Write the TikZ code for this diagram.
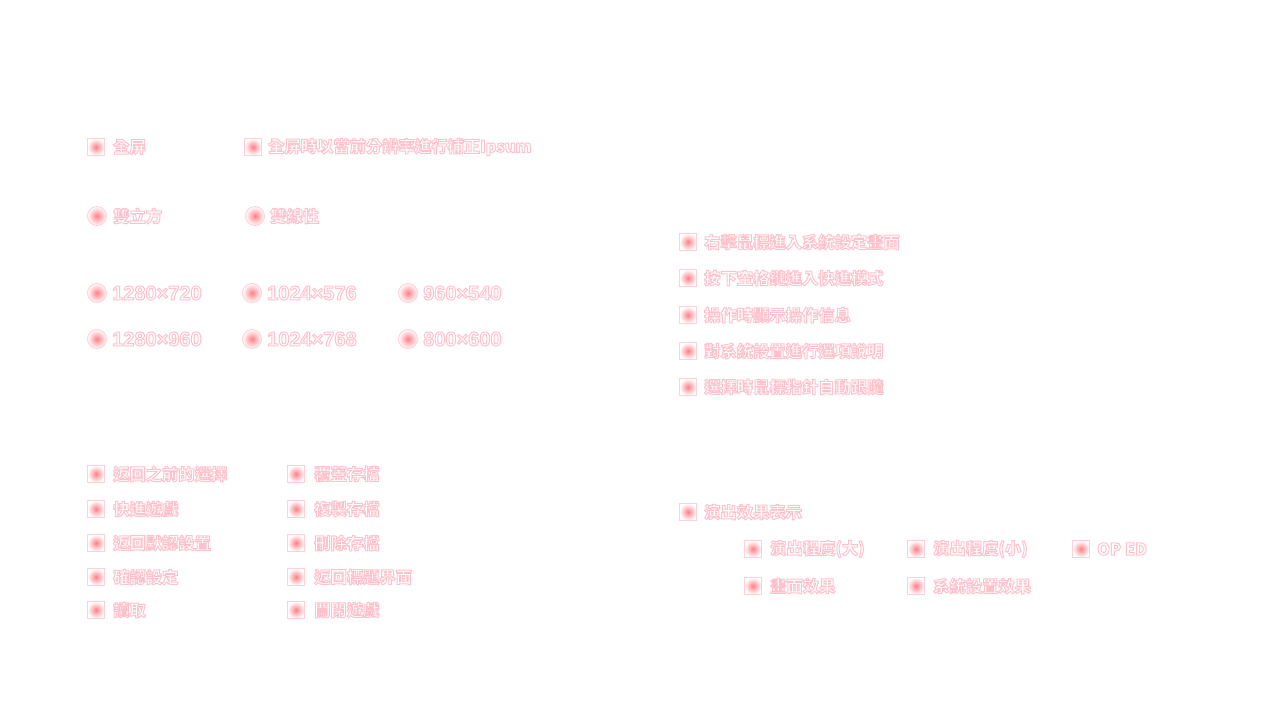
\documentclass[tikz,border=0pt]{standalone}
\usepackage{fontspec}
\setmainfont{Liberation Sans}
\newfontfamily\cjkfont{Noto Sans CJK TC}
\newfontfamily\numfont{Liberation Sans}
\definecolor{boxpink}{HTML}{FFD0D5}
\definecolor{dotred}{HTML}{FF7F86}
\newcommand{\gl}[1]{\special{pdf:literal direct 2 Tr 1 0.76 0.8 RG 1.0 w}#1\special{pdf:literal direct 0 Tr 0.4 w}}
\tikzset{
  chk/.style={draw=boxpink, line width=0.9pt, fill=white, minimum size=16.5pt, inner sep=0pt,
    path picture={
      \shade[inner color=dotred, outer color=white] ([shift={(-8.5pt,-8.5pt)}]path picture bounding box.center) rectangle ([shift={(8.5pt,8.5pt)}]path picture bounding box.center);
    }},
  rad/.style={circle, draw=boxpink, line width=0.9pt, fill=white, minimum size=19pt, inner sep=0pt,
    path picture={
      \shade[inner color=dotred, outer color=white] (path picture bounding box.center) circle (9.5pt);
    }},
  lbl/.style={anchor=west, inner sep=0pt, text=white, font=\cjkfont\bfseries\fontsize{16.3}{18}\selectfont},
  nlbl/.style={anchor=west, inner sep=0pt, text=white, font=\numfont\bfseries\fontsize{20}{22}\selectfont}
}
\begin{document}
\begin{tikzpicture}[x=1pt,y=-1pt]
\useasboundingbox (0,0) rectangle (1280,720);
% top left: display
\node[chk] (k1) at (96,147) {};
\node[lbl] (t1) at (113,147) {\gl{全屏}};
\node[chk] (k2) at (253,147) {};
\node[lbl] (t2) at (268,147) {\gl{全屏時以當前分辨率進行補正Ipsum}};
\node[rad] (r1) at (97,216) {};
\node[lbl] (u1) at (113,216) {\gl{雙立方}};
\node[rad] (r2) at (255,216) {};
\node[lbl] (u2) at (270,216) {\gl{雙線性}};
% resolutions
\node[rad] (r3) at (97,293) {};
\node[nlbl] (n3) at (112,293) {\gl{1280×720}};
\node[rad] (r4) at (252,293) {};
\node[nlbl] (n4) at (267,293) {\gl{1024×576}};
\node[rad] (r5) at (408,293) {};
\node[nlbl] (n5) at (423,293) {\gl{960×540}};
\node[rad] (r6) at (97,339) {};
\node[nlbl] (n6) at (112,339) {\gl{1280×960}};
\node[rad] (r7) at (252,339) {};
\node[nlbl] (n7) at (267,339) {\gl{1024×768}};
\node[rad] (r8) at (408,339) {};
\node[nlbl] (n8) at (423,339) {\gl{800×600}};
% right list
\node[chk] (q1) at (688,242) {};
\node[lbl] (p1) at (704,242) {\gl{右擊鼠標進入系統設定畫面}};
\node[chk] (q2) at (688,278) {};
\node[lbl] (p2) at (704,278) {\gl{按下空格鍵進入快進模式}};
\node[chk] (q3) at (688,315) {};
\node[lbl] (p3) at (704,315) {\gl{操作時顯示操作信息}};
\node[chk] (q4) at (688,351) {};
\node[lbl] (p4) at (704,351) {\gl{對系統設置進行選項說明}};
\node[chk] (q5) at (688,387) {};
\node[lbl] (p5) at (704,387) {\gl{選擇時鼠標指針自動跟隨}};
% effects
\node[chk] (e0) at (688,512) {};
\node[lbl] (f0) at (704,512) {\gl{演出效果表示}};
\node[chk] (e1) at (753,549) {};
\node[lbl] (f1) at (770,549) {\gl{演出程度(大)}};
\node[chk] (e2) at (916,549) {};
\node[lbl] (f2) at (933,549) {\gl{演出程度(小)}};
\node[chk] (e3) at (1081,549) {};
\node[lbl] (f3) at (1097,549) {\gl{OP ED}};
\node[chk] (e4) at (753,586) {};
\node[lbl] (f4) at (770,586) {\gl{畫面效果}};
\node[chk] (e5) at (916,586) {};
\node[lbl] (f5) at (933,586) {\gl{系統設置效果}};
% bottom left col 1
\node[chk] (a1) at (96,474) {};
\node[lbl] (s1) at (113,474) {\gl{返回之前的選擇}};
\node[chk] (a2) at (96,509) {};
\node[lbl] (s2) at (113,509) {\gl{快進遊戲}};
\node[chk] (a3) at (96,543) {};
\node[lbl] (s3) at (113,543) {\gl{返回默認設置}};
\node[chk] (a4) at (96,577) {};
\node[lbl] (s4) at (113,577) {\gl{確認設定}};
\node[chk] (a5) at (96,610) {};
\node[lbl] (s5) at (113,610) {\gl{讀取}};
% bottom left col 2
\node[chk] (d1) at (296,474) {};
\node[lbl] (g1) at (314,474) {\gl{覆蓋存檔}};
\node[chk] (d2) at (296,509) {};
\node[lbl] (g2) at (314,509) {\gl{複製存檔}};
\node[chk] (d3) at (296,543) {};
\node[lbl] (g3) at (314,543) {\gl{刪除存檔}};
\node[chk] (d4) at (296,577) {};
\node[lbl] (g4) at (314,577) {\gl{返回標題界面}};
\node[chk] (d5) at (296,610) {};
\node[lbl] (g5) at (314,610) {\gl{關閉遊戲}};
\end{tikzpicture}
\end{document}
